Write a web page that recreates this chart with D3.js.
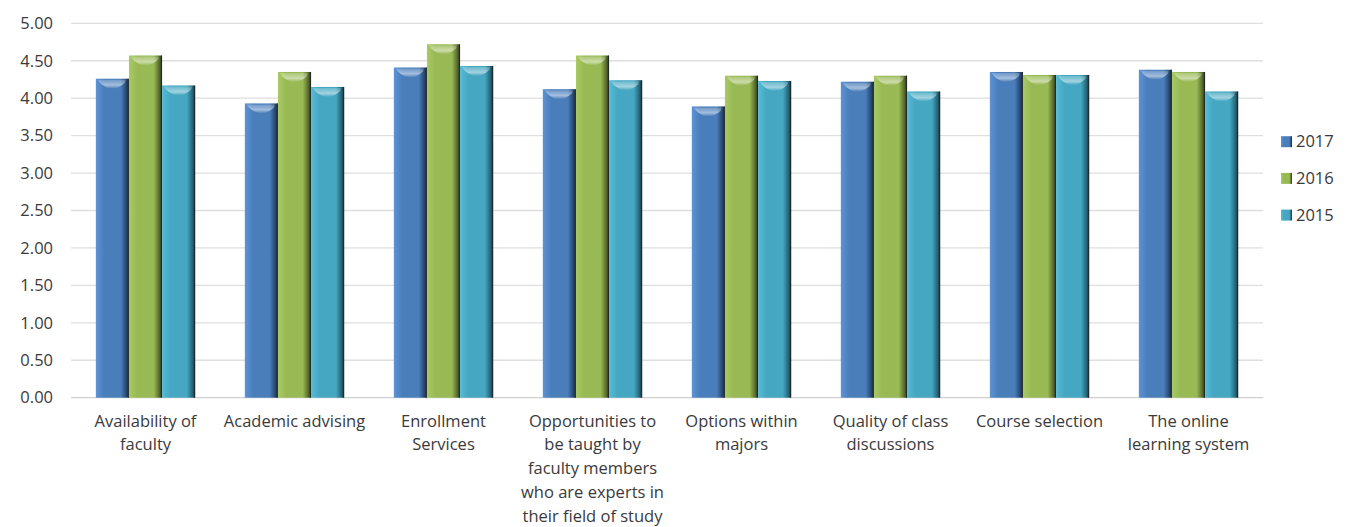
<!DOCTYPE html>
<html>
<head>
<meta charset="utf-8">
<script src="https://cdn.jsdelivr.net/npm/d3@7"></script>
<style>
  body { margin: 0; background: #fff; }
  text { font-family: "Open Sans", sans-serif; fill: #3a3a3a; }
</style>
</head>
<body>
<div id="chart"></div>
<script>
// Chart data
const categories = [
  "Availability of faculty",
  "Academic advising",
  "Enrollment Services",
  "Opportunities to be taught by faculty members who are experts in their field of study",
  "Options within majors",
  "Quality of class discussions",
  "Course selection",
  "The online learning system"
];
// label lines as they wrap in the original
const categoryLines = [
  ["Availability of", "faculty"],
  ["Academic advising"],
  ["Enrollment", "Services"],
  ["Opportunities to", "be taught by", "faculty members", "who are experts in", "their field of study"],
  ["Options within", "majors"],
  ["Quality of class", "discussions"],
  ["Course selection"],
  ["The online", "learning system"]
];
const seriesNames = ["2017", "2016", "2015"];
const values2017 = [4.26, 3.93, 4.41, 4.12, 3.89, 4.22, 4.35, 4.38];
const values2016 = [4.57, 4.35, 4.72, 4.57, 4.30, 4.30, 4.31, 4.35];
const values2015 = [4.17, 4.15, 4.43, 4.24, 4.23, 4.09, 4.31, 4.09];
const yTicks = [0, 0.5, 1, 1.5, 2, 2.5, 3, 3.5, 4, 4.5, 5];

const seriesValues = [values2017, values2016, values2015];
const colors = {
  "2017": { light: "#5d93d6", base: "#4a7ebb", dark: "#27476f" },
  "2016": { light: "#a9c964", base: "#98b954", dark: "#56692a" },
  "2015": { light: "#58bcd6", base: "#45a7c1", dark: "#236577" }
};

// Set dimensions
const width = 1350, height = 527;
const plot = { left: 71, right: 1263, top: 23.3, bottom: 397.7 };

const svg = d3
  .select("#chart")
  .append("svg")
  .attr("width", width)
  .attr("height", height);

// Gradients for the bevelled bars
const defs = svg.append("defs");
seriesNames.forEach((s) => {
  const g = defs
    .append("linearGradient")
    .attr("id", "grad" + s)
    .attr("x1", "0").attr("x2", "1").attr("y1", "0").attr("y2", "0");
  g.append("stop").attr("offset", "0%").attr("stop-color", colors[s].light);
  g.append("stop").attr("offset", "25%").attr("stop-color", colors[s].base);
  g.append("stop").attr("offset", "75%").attr("stop-color", colors[s].base);
  g.append("stop").attr("offset", "92%").attr("stop-color", colors[s].dark);
  g.append("stop").attr("offset", "100%").attr("stop-color", "#1e2a30");

  const cap = defs
    .append("linearGradient")
    .attr("id", "cap" + s)
    .attr("x1", "0").attr("x2", "0").attr("y1", "0").attr("y2", "1");
  cap.append("stop").attr("offset", "0%").attr("stop-color", "#ffffff").attr("stop-opacity", 0.2);
  cap.append("stop").attr("offset", "60%").attr("stop-color", "#ffffff").attr("stop-opacity", 0.5);
  cap.append("stop").attr("offset", "100%").attr("stop-color", "#ffffff").attr("stop-opacity", 0);
});

// Scales
const x0 = d3.scaleBand().domain(categories).range([plot.left, plot.right]);
const x1 = d3
  .scaleBand()
  .domain(seriesNames)
  .range([x0.bandwidth() * 0.1667, x0.bandwidth() * 0.8333]);
const y = d3.scaleLinear().domain([0, 5]).range([plot.bottom, plot.top]);

// Gridlines
svg
  .append("g")
  .selectAll("line")
  .data(yTicks)
  .enter()
  .append("line")
  .attr("x1", plot.left)
  .attr("x2", plot.right)
  .attr("y1", (d) => y(d))
  .attr("y2", (d) => y(d))
  .attr("stroke", (d) => (d === 0 ? "#d0d0d0" : "#dedede"))
  .attr("stroke-width", 1.3);

// Y axis labels
const yAxis = svg
  .append("g")
  .attr("transform", `translate(${plot.left},0)`)
  .call(d3.axisLeft(y).tickValues(yTicks).tickFormat(d3.format(".2f")).tickSize(0).tickPadding(18));
yAxis.select(".domain").remove();
yAxis.selectAll("text").style("font-size", "16.5px").style("font-family", "Open Sans").attr("fill", "#3a3a3a");

// Bars
const groups = svg
  .append("g")
  .selectAll("g")
  .data(categories)
  .enter()
  .append("g")
  .attr("transform", (d) => `translate(${x0(d)},0)`);

const bars = groups
  .selectAll("g.bar")
  .data((d, i) => seriesNames.map((s, k) => ({ s, v: seriesValues[k][i] })))
  .enter()
  .append("g")
  .attr("class", "bar");

bars
  .append("rect")
  .attr("x", (d) => x1(d.s))
  .attr("y", (d) => y(d.v))
  .attr("width", x1.bandwidth())
  .attr("height", (d) => y(0) - y(d.v))
  .attr("fill", (d) => `url(#grad${d.s})`);

// Top highlight cap
bars
  .append("path")
  .attr("d", (d) => {
    const xa = x1(d.s), w = x1.bandwidth(), ya = y(d.v);
    return `M${xa + 2},${ya + 1} L${xa + w - 3},${ya + 1} L${xa + w - 4},${ya + 4}
      Q${xa + w * 0.5},${ya + 16} ${xa + 4},${ya + 4} Z`;
  })
  .attr("fill", (d) => `url(#cap${d.s})`);

// Thin dark outline on the right edge
bars
  .append("line")
  .attr("x1", (d) => x1(d.s) + x1.bandwidth() - 0.5)
  .attr("x2", (d) => x1(d.s) + x1.bandwidth() - 0.5)
  .attr("y1", (d) => y(d.v))
  .attr("y2", y(0))
  .attr("stroke", "#1c2226")
  .attr("stroke-opacity", 0.6);

// X axis labels
const xLabels = svg
  .append("g")
  .selectAll("text")
  .data(categories)
  .enter()
  .append("text")
  .attr("x", (d) => x0(d) + x0.bandwidth() / 2)
  .attr("y", plot.bottom + 29)
  .style("text-anchor", "middle")
  .style("font-size", "16.5px");

xLabels
  .selectAll("tspan")
  .data((d, i) => categoryLines[i])
  .enter()
  .append("tspan")
  .attr("x", function () { return this.parentNode.getAttribute("x"); })
  .attr("dy", (d, i) => (i === 0 ? 0 : 23.7))
  .text((d) => d);

// Legend
const legend = svg
  .append("g")
  .selectAll("g")
  .data(seriesNames)
  .enter()
  .append("g")
  .attr("transform", (d, i) => `translate(1281,${141.7 + i * 36.7})`);

legend
  .append("rect")
  .attr("x", 0)
  .attr("y", -5.5)
  .attr("width", 11)
  .attr("height", 11)
  .attr("fill", (d) => `url(#grad${d})`);

legend
  .append("text")
  .attr("x", 15)
  .attr("dy", "0.35em")
  .style("font-size", "16.5px")
  .text((d) => d);
</script>
</body>
</html>
